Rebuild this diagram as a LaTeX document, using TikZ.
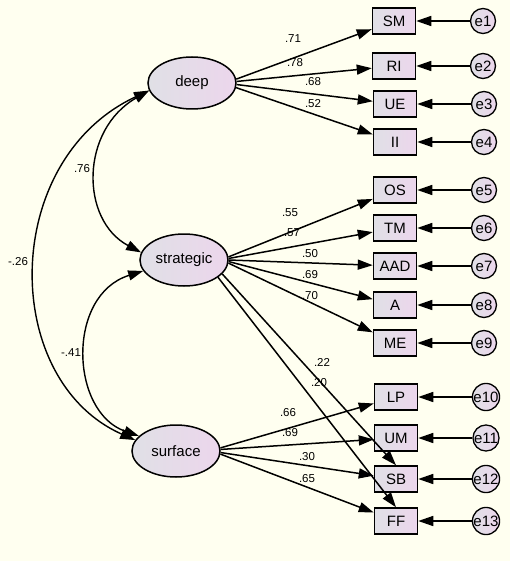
\documentclass[tikz,border=0pt]{standalone}
\usepackage{fontspec}
\setmainfont{Liberation Sans}
\usetikzlibrary{arrows.meta,shapes.geometric}
\definecolor{bgc}{RGB}{255,255,240}
\definecolor{nl}{RGB}{224,224,230}
\definecolor{nr}{RGB}{236,214,236}
\tikzset{
  every node/.style={font=\fontsize{15}{17}\selectfont},
  lat/.style={ellipse,draw,line width=1.5pt,minimum width=88pt,minimum height=52pt,inner sep=0pt,left color=nl,right color=nr},
  obs/.style={rectangle,draw,line width=1.5pt,minimum width=43pt,minimum height=26pt,inner sep=0pt,left color=nl,right color=nr},
  err/.style={circle,draw,line width=1.3pt,minimum size=25pt,inner sep=0pt,left color=nl,right color=nr},
  lbl/.style={font=\fontsize{11.5}{13}\selectfont,inner sep=0pt},
  path/.style={line width=1.5pt,-{Triangle[length=15pt,width=10pt]}},
  cov/.style={line width=1.4pt,{Triangle[length=15pt,width=10pt]}-{Triangle[length=15pt,width=10pt]}}
}
\begin{document}
\begin{tikzpicture}[x=1pt,y=1pt]
\fill[bgc] (0,0) rectangle (510,-561);
\useasboundingbox (0,0) rectangle (510,-561);
% latent
\node[lat] (deep) at (192,-83) {deep};
\node[lat] (strategic) at (184,-260) {strategic};
\node[lat] (surface) at (176,-451) {surface};
% observed
\node[obs] (SM) at (394,-21) {SM};
\node[obs] (RI) at (394,-66) {RI};
\node[obs] (UE) at (395,-104) {UE};
\node[obs] (II) at (395,-142) {II};
\node[obs] (OS) at (395,-190) {OS};
\node[obs] (TM) at (395,-228) {TM};
\node[obs] (AAD) at (395,-266) {AAD};
\node[obs] (A) at (395,-305) {A};
\node[obs] (ME) at (395,-343) {ME};
\node[obs] (LP) at (396,-397) {LP};
\node[obs] (UM) at (396,-438) {UM};
\node[obs] (SB) at (396,-479) {SB};
\node[obs] (FF) at (396,-521) {FF};
% errors
\node[err] (e1) at (483,-21) {e1};
\node[err] (e2) at (483,-66) {e2};
\node[err] (e3) at (484,-104) {e3};
\node[err] (e4) at (484,-142) {e4};
\node[err] (e5) at (484,-190) {e5};
\node[err] (e6) at (484,-228) {e6};
\node[err] (e7) at (484,-266) {e7};
\node[err] (e8) at (484,-305) {e8};
\node[err] (e9) at (484,-343) {e9};
\node[err] (e10) at (486,-397) {e10};
\node[err] (e11) at (486,-438) {e11};
\node[err] (e12) at (486,-479) {e12};
\node[err] (e13) at (486,-521) {e13};
% error arrows
\foreach \e/\o in {e1/SM,e2/RI,e3/UE,e4/II,e5/OS,e6/TM,e7/AAD,e8/A,e9/ME,e10/LP,e11/UM,e12/SB,e13/FF}
  \draw[path] (\e) -- (\o);
% loadings
\draw[path] (deep.5) -- (SM);
\draw[path] (deep.2) -- (RI);
\draw[path] (deep.-2) -- (UE);
\draw[path] (deep.-6) -- (II);
\draw[path] (strategic.4) -- (OS);
\draw[path] (strategic.2) -- (TM);
\draw[path] (strategic.0) -- (AAD);
\draw[path] (strategic.-2) -- (A);
\draw[path] (strategic.-4) -- (ME);
\draw[path] (strategic.-20) -- (SB.north);
\draw[path] (strategic.-27) -- (FF.north);
\draw[path] (surface.4) -- (LP);
\draw[path] (surface.2) -- (UM);
\draw[path] (surface.-2) -- (SB);
\draw[path] (surface.-4) -- (FF);
% loading labels
\node[lbl] (l1) at (293,-39) {.71};
\node[lbl] (l2) at (295,-63) {.78};
\node[lbl] (l3) at (313,-82) {.68};
\node[lbl] (l4) at (313,-104) {.52};
\node[lbl] (l5) at (290,-213) {.55};
\node[lbl] (l6) at (292,-233) {.57};
\node[lbl] (l7) at (310,-254) {.50};
\node[lbl] (l8) at (310,-275) {.69};
\node[lbl] (l9) at (310,-296) {.70};
\node[lbl] (l10) at (322,-362) {.22};
\node[lbl] (l11) at (319,-383) {.20};
\node[lbl] (l12) at (288,-413) {.66};
\node[lbl] (l13) at (290,-433) {.69};
\node[lbl] (l14) at (307,-457) {.30};
\node[lbl] (l15) at (307,-479) {.65};
% covariances
\draw[cov] (deep.190) .. controls (80,-130) and (80,-220) .. (strategic.170);
\draw[cov] (deep.190) .. controls (0,-160) and (0,-380) .. (surface.165);
\draw[cov] (strategic.195) .. controls (66,-295) and (70,-412) .. (surface.158);
\node[lbl] (c1) at (82,-169) {.76};
\node[lbl] (c2) at (18,-262) {-.26};
\node[lbl] (c3) at (71,-353) {-.41};
\end{tikzpicture}
\end{document}
